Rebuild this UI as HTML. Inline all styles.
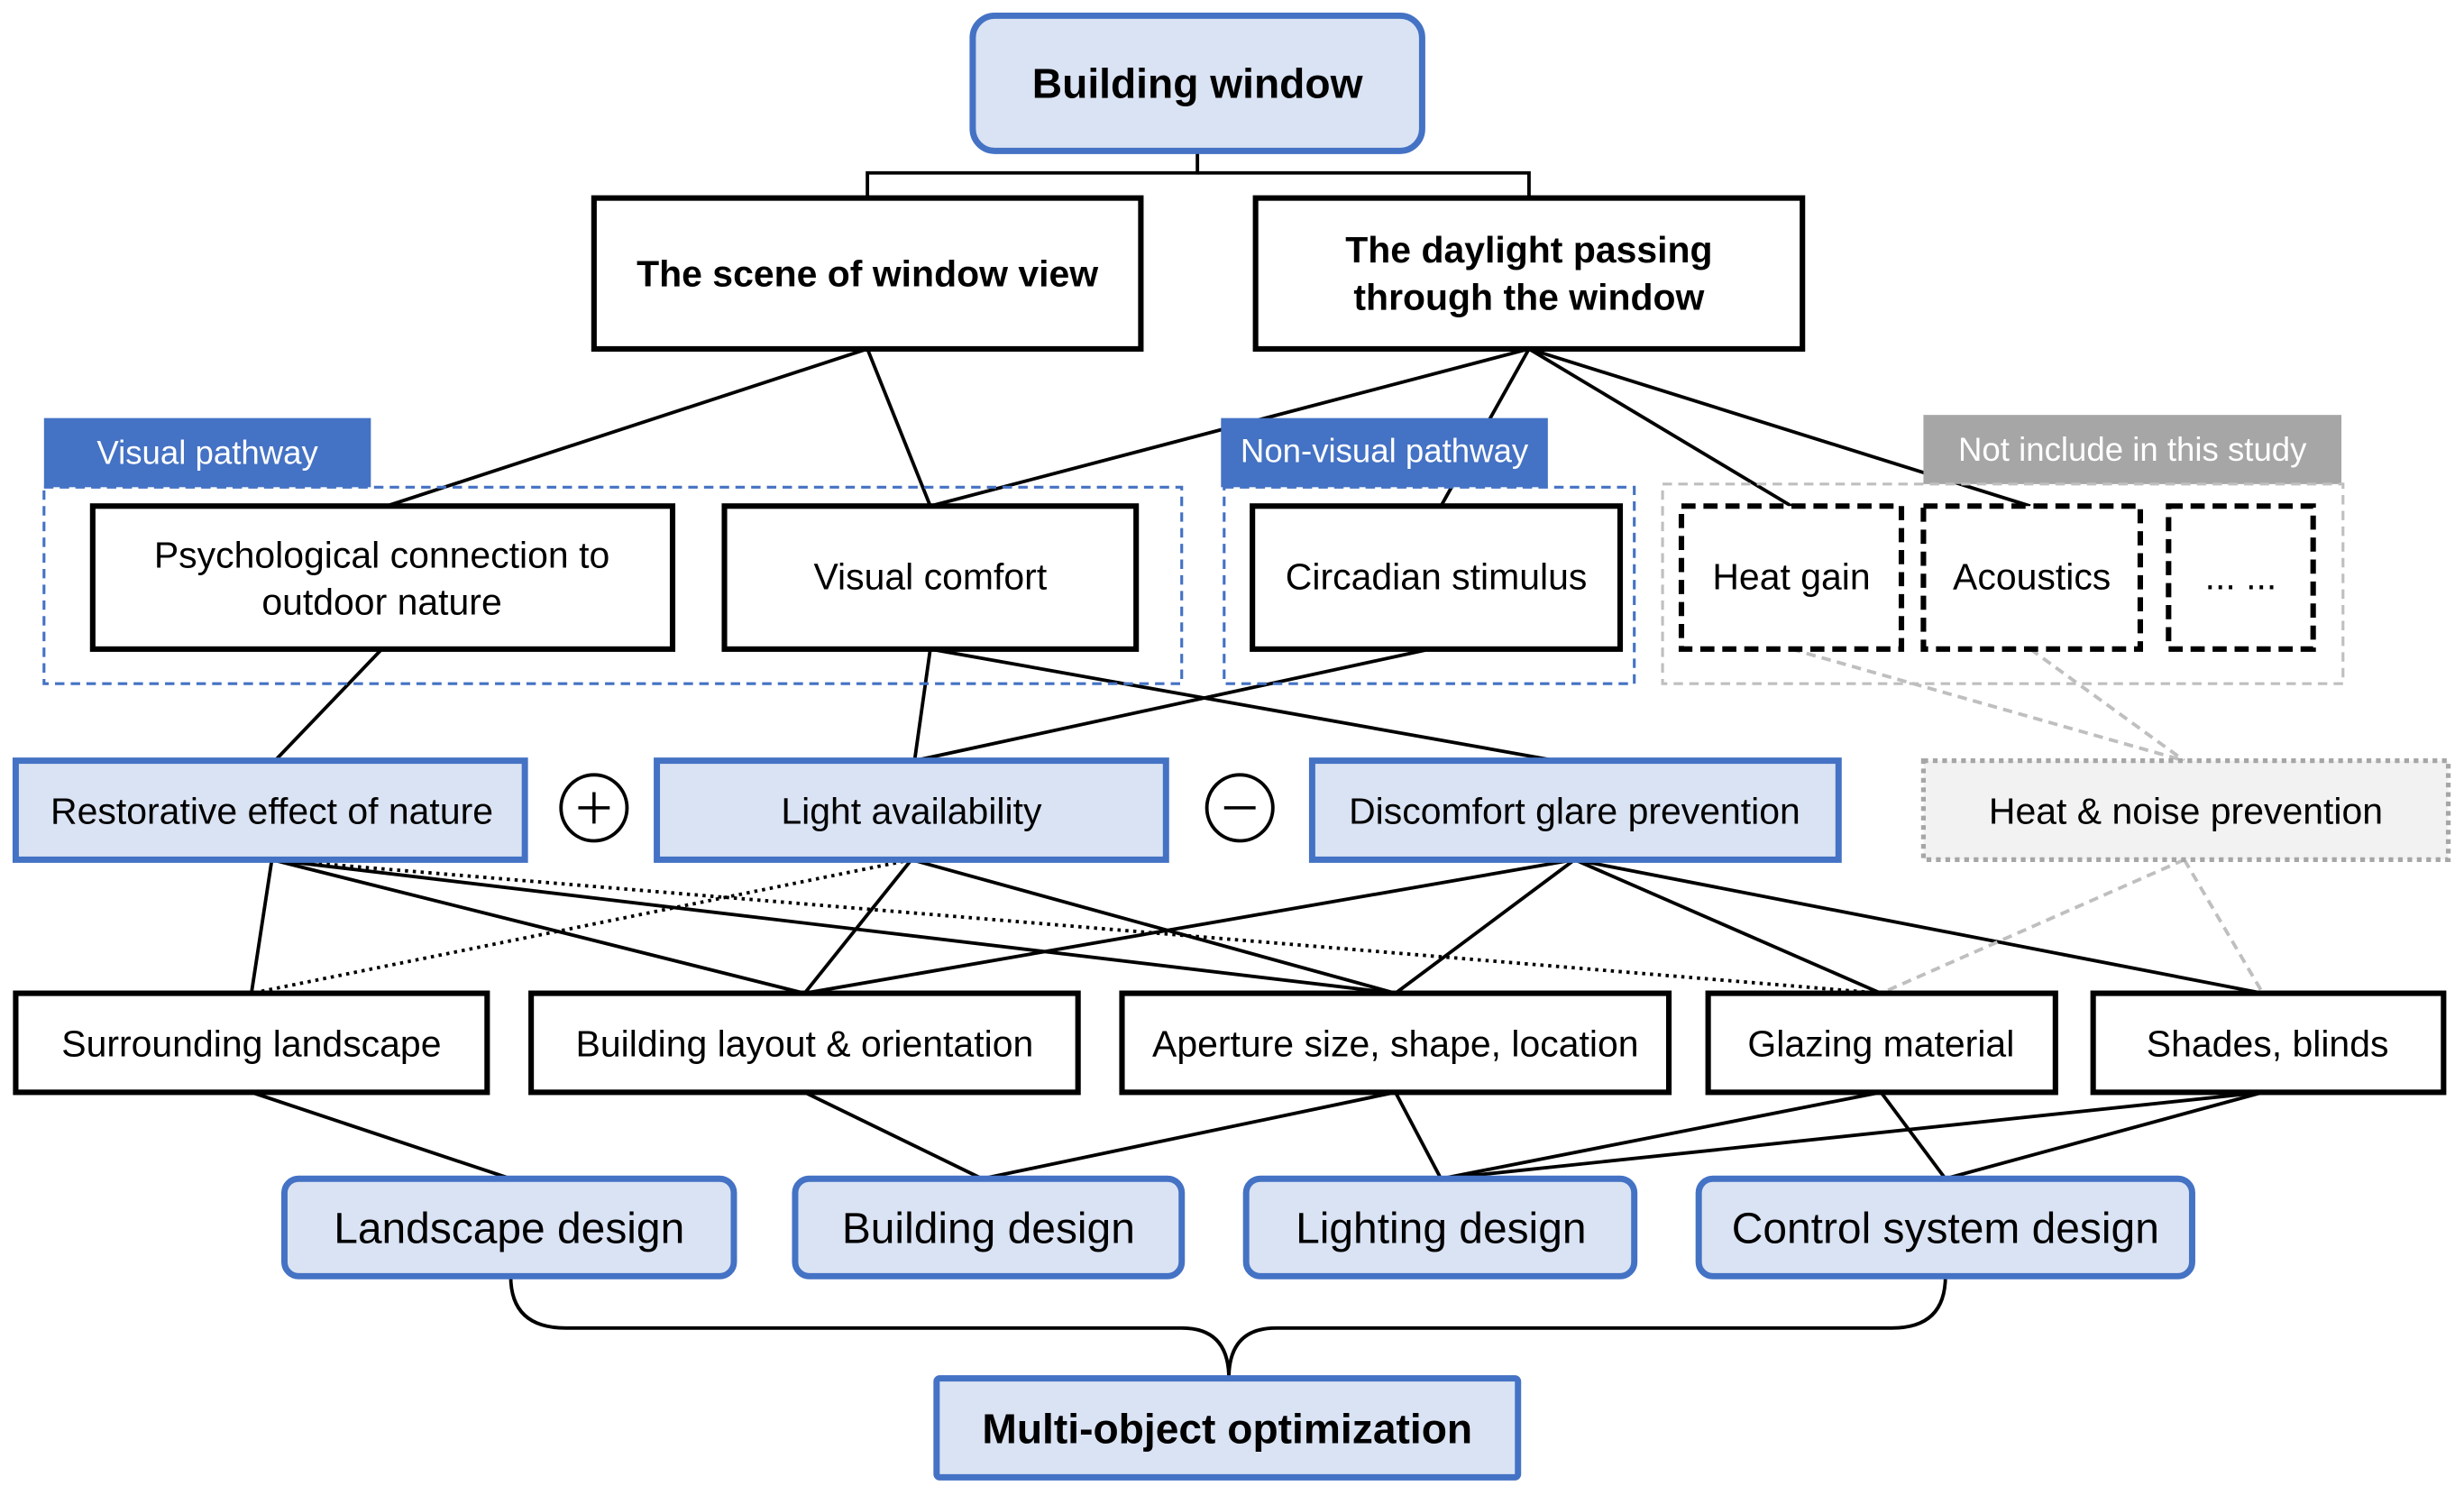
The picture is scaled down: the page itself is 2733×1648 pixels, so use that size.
<!DOCTYPE html>
<html><head><meta charset="utf-8"><style>
html,body{margin:0;padding:0;background:#fff;}
svg{display:block;}
text{font-family:"Liberation Sans",sans-serif;fill:#000;text-anchor:middle;dominant-baseline:central;}
</style></head><body>
<svg width="2733" height="1648" viewBox="0 0 1568 945.5" xmlns="http://www.w3.org/2000/svg">
<rect width="1568" height="946" fill="#fff"/>
<g stroke="#000" stroke-width="2.2" fill="none">
<polyline points="762,96 762,110 552,110 552,126"/>
<polyline points="762,110 973,110 973,126"/>
<line x1="552" y1="222" x2="246" y2="322"/>
<line x1="552" y1="222" x2="592" y2="322"/>
<line x1="973" y1="222" x2="592" y2="322"/>
<line x1="973" y1="222" x2="917" y2="322"/>
<line x1="973" y1="222" x2="1140" y2="322"/>
<line x1="973" y1="222" x2="1292" y2="322"/>
<line x1="243" y1="413" x2="175" y2="484"/>
<line x1="592" y1="413" x2="582" y2="484"/>
<line x1="592" y1="413" x2="990" y2="484"/>
<line x1="910" y1="413" x2="582" y2="484"/>
<line x1="173" y1="547" x2="160" y2="632"/>
<line x1="173" y1="547" x2="512" y2="632"/>
<line x1="173" y1="547" x2="888" y2="632"/>
<line x1="173" y1="547" x2="1197" y2="632" stroke-dasharray="2,3"/>
<line x1="580" y1="547" x2="160" y2="632" stroke-dasharray="2,3"/>
<line x1="580" y1="547" x2="512" y2="632"/>
<line x1="580" y1="547" x2="888" y2="632"/>
<line x1="1002" y1="547" x2="512" y2="632"/>
<line x1="1002" y1="547" x2="888" y2="632"/>
<line x1="1002" y1="547" x2="1197" y2="632"/>
<line x1="1002" y1="547" x2="1440" y2="632"/>
<line x1="160" y1="695" x2="325" y2="750"/>
<line x1="512" y1="695" x2="625" y2="750"/>
<line x1="888" y1="695" x2="625" y2="750"/>
<line x1="888" y1="695" x2="917" y2="750"/>
<line x1="1197" y1="695" x2="917" y2="750"/>
<line x1="1197" y1="695" x2="1238" y2="750"/>
<line x1="1440" y1="695" x2="917" y2="750"/>
<line x1="1440" y1="695" x2="1238" y2="750"/>
<path d="M325,812 Q325,845 360,845 L752,845 Q782,845 782,877 Q782,845 812,845 L1204,845 Q1238,845 1238,812"/>
</g>
<g stroke="#bfbfbf" stroke-width="2.2" fill="none" stroke-dasharray="6,4">
<line x1="1140" y1="413" x2="1390" y2="484"/>
<line x1="1292" y1="413" x2="1390" y2="484"/>
<line x1="1390" y1="547" x2="1197" y2="632"/>
<line x1="1390" y1="547" x2="1440" y2="632"/>
</g>
<rect x="619" y="10" width="286" height="86" rx="14" fill="#dae3f3" stroke="#4472c4" stroke-width="4"/>
<text x="762" y="53" font-size="26.5" font-weight="bold">Building window</text>
<g fill="#fff" stroke="#000" stroke-width="3.5">
<rect x="378" y="126" width="348" height="96"/>
<rect x="799" y="126" width="348" height="96"/>
</g>
<text x="552" y="174" font-size="23.5" font-weight="bold">The scene of window view</text>
<text x="973" y="159" font-size="23.5" font-weight="bold">The daylight passing</text>
<text x="973" y="189" font-size="23.5" font-weight="bold">through the window</text>
<rect x="28" y="266" width="208" height="44" fill="#4472c4"/>
<text x="132" y="288" font-size="21" style="fill:#fff">Visual pathway</text>
<rect x="777" y="266" width="208" height="44" fill="#4472c4"/>
<text x="881" y="287" font-size="21" style="fill:#fff">Non-visual pathway</text>
<rect x="1224" y="264" width="266" height="44" fill="#a6a6a6"/>
<text x="1357" y="286" font-size="21" style="fill:#fff">Not include in this study</text>
<g fill="none" stroke-width="1.8" stroke-dasharray="6,4">
<rect x="28" y="310" width="724" height="125" stroke="#4472c4"/>
<rect x="779" y="310" width="261" height="125" stroke="#4472c4"/>
<rect x="1058" y="308" width="433" height="127" stroke="#bfbfbf"/>
</g>
<g fill="#fff" stroke="#000" stroke-width="3.5">
<rect x="59" y="322" width="369" height="91"/>
<rect x="461" y="322" width="262" height="91"/>
<rect x="797" y="322" width="234" height="91"/>
</g>
<g fill="#fff" stroke="#000" stroke-width="3.5" stroke-dasharray="9,5">
<rect x="1070" y="322" width="140" height="91"/>
<rect x="1224" y="322" width="138" height="91"/>
<rect x="1380" y="322" width="92" height="91"/>
</g>
<text x="243" y="353" font-size="23.5">Psychological connection to</text>
<text x="243" y="383" font-size="23.5">outdoor nature</text>
<text x="592" y="367" font-size="23.5">Visual comfort</text>
<text x="914" y="367" font-size="23.5">Circadian stimulus</text>
<text x="1140" y="367" font-size="23.5">Heat gain</text>
<text x="1293" y="367" font-size="23.5">Acoustics</text>
<text x="1426" y="367" font-size="23.5">... ...</text>
<g fill="#dae3f3" stroke="#4472c4" stroke-width="4">
<rect x="10" y="484" width="324" height="63"/>
<rect x="418" y="484" width="324" height="63"/>
<rect x="835" y="484" width="335" height="63"/>
</g>
<rect x="1224" y="484" width="334" height="63" fill="#f2f2f2" stroke="#a6a6a6" stroke-width="3" stroke-dasharray="3,3"/>
<text x="173" y="516" font-size="23.5">Restorative effect of nature</text>
<text x="580" y="516" font-size="23.5">Light availability</text>
<text x="1002" y="516" font-size="23.5">Discomfort glare prevention</text>
<text x="1391" y="516" font-size="23.5">Heat &amp; noise prevention</text>
<circle cx="378" cy="514" r="21" fill="#fff" stroke="#000" stroke-width="2.2"/>
<path d="M368,514 h20 M378,504 v20" stroke="#000" stroke-width="2"/>
<circle cx="789" cy="514" r="21" fill="#fff" stroke="#000" stroke-width="2.2"/>
<path d="M779,514 h20" stroke="#000" stroke-width="2"/>
<g fill="#fff" stroke="#000" stroke-width="3.5">
<rect x="10" y="632" width="300" height="63"/>
<rect x="338" y="632" width="348" height="63"/>
<rect x="714" y="632" width="348" height="63"/>
<rect x="1087" y="632" width="221" height="63"/>
<rect x="1332" y="632" width="223" height="63"/>
</g>
<text x="160" y="664" font-size="23.5">Surrounding landscape</text>
<text x="512" y="664" font-size="23.5">Building layout &amp; orientation</text>
<text x="888" y="664" font-size="23.5">Aperture size, shape, location</text>
<text x="1197" y="664" font-size="23.5">Glazing material</text>
<text x="1443" y="664" font-size="23.5">Shades, blinds</text>
<g fill="#dae3f3" stroke="#4472c4" stroke-width="4">
<rect x="181" y="750" width="286" height="62" rx="9"/>
<rect x="506" y="750" width="246" height="62" rx="9"/>
<rect x="793" y="750" width="247" height="62" rx="9"/>
<rect x="1081" y="750" width="314" height="62" rx="9"/>
<rect x="596" y="877" width="370" height="63" rx="2"/>
</g>
<text x="324" y="782" font-size="27.5">Landscape design</text>
<text x="629" y="782" font-size="27.5">Building design</text>
<text x="917" y="782" font-size="27.5">Lighting design</text>
<text x="1238" y="782" font-size="27.5">Control system design</text>
<text x="781" y="909" font-size="26.5" font-weight="bold">Multi-object optimization</text>
</svg>
</body></html>
